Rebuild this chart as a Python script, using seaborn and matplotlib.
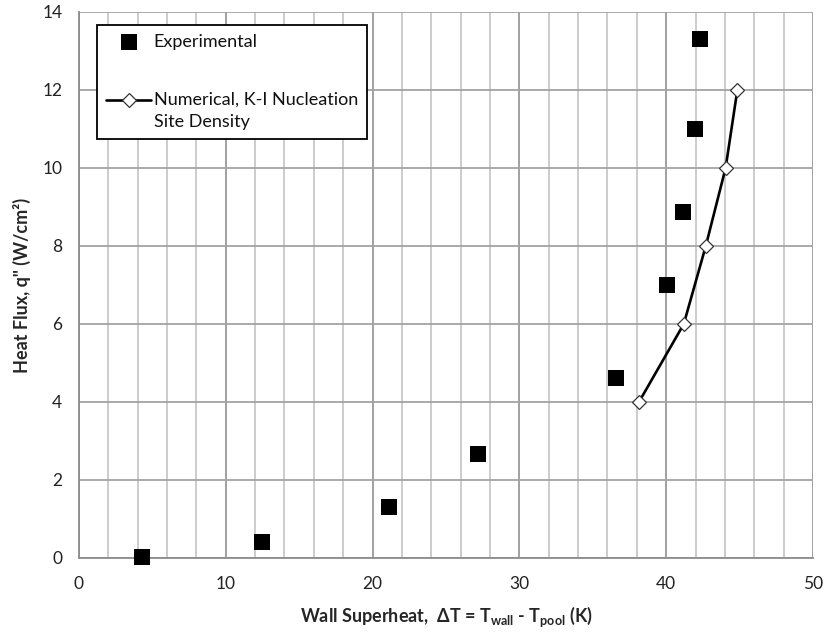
import matplotlib
matplotlib.use("Agg")
import matplotlib.pyplot as plt
from matplotlib.ticker import MultipleLocator
from matplotlib.legend_handler import HandlerLine2D
import seaborn as sns
import pandas as pd

# Experimental pool-boiling data
exp_dT = [4.3, 12.45, 21.1, 27.2, 36.55, 40.05, 41.15, 41.95, 42.3]
exp_q = [0.03, 0.40, 1.31, 2.67, 4.61, 7.0, 8.88, 10.99, 13.3]

# Numerical results, K-I nucleation site density
num_dT = [38.15, 41.2, 42.7, 44.05, 44.85]
num_q = [4.0, 6.0, 8.0, 10.0, 12.0]

x_ticks = [0, 10, 20, 30, 40, 50]
y_ticks = [0, 2, 4, 6, 8, 10, 12, 14]

sns.set_style("white")
plt.rcParams["font.family"] = ["Lato", "DejaVu Sans"]
plt.rcParams["mathtext.fontset"] = "custom"
plt.rcParams["mathtext.rm"] = "Lato:bold"
plt.rcParams["mathtext.it"] = "Lato:bold"
plt.rcParams["mathtext.bf"] = "Lato:bold"

exp_df = pd.DataFrame({"dT": exp_dT, "q": exp_q})
num_df = pd.DataFrame({"dT": num_dT, "q": num_q})


class FirstLineHandler(HandlerLine2D):
    """Line handle aligned with the first line of a two-line label."""

    def __init__(self, shift=8.0, **kw):
        super().__init__(**kw)
        self.shift = shift

    def create_artists(self, legend, orig_handle, xdescent, ydescent,
                       width, height, fontsize, trans):
        return super().create_artists(legend, orig_handle, xdescent,
                                      ydescent - 2 * self.shift, width,
                                      height, fontsize, trans)


fig = plt.figure(figsize=(8.26, 6.34), dpi=100)
ax = fig.add_axes([0.0956, 0.1199, 0.8886, 0.8612])

ax.set_xlim(0, 50)
ax.set_ylim(0, 14)
ax.xaxis.set_major_locator(MultipleLocator(10))
ax.xaxis.set_minor_locator(MultipleLocator(2))
ax.yaxis.set_major_locator(MultipleLocator(2))

ax.grid(which="minor", axis="x", color="#c8c8c8", linewidth=1.3)
ax.grid(which="major", axis="x", color="#9a9a9a", linewidth=1.3)
ax.grid(which="major", axis="y", color="#a4a4a4", linewidth=1.3)
ax.set_axisbelow(True)

sns.scatterplot(data=exp_df, x="dT", y="q", marker="s", s=120, color="black",
                edgecolor="black", linewidth=0, ax=ax, label="Experimental",
                zorder=3, clip_on=False)
sns.lineplot(data=num_df, x="dT", y="q", color="black", linewidth=1.9,
             marker="D", markersize=7.5, markerfacecolor="white",
             markeredgecolor="#333333", markeredgewidth=0.9, ax=ax,
             label="Numerical, K-I Nucleation\nSite Density", zorder=4)

for side in ["top", "right"]:
    ax.spines[side].set_visible(False)
for side in ["left", "bottom"]:
    ax.spines[side].set_color("#8c8c8c")
    ax.spines[side].set_linewidth(1.3)

ax.set_xticks(x_ticks)
ax.set_yticks(y_ticks)
ax.tick_params(axis="both", which="major", direction="out", length=6,
               width=1.2, color="#8c8c8c", labelsize=12.5, labelcolor="#222222")
ax.tick_params(axis="x", which="minor", length=0)
ax.tick_params(axis="x", pad=7)
ax.tick_params(axis="y", pad=6)

ax.set_xlabel(r"Wall Superheat,  ΔT = T$_{\mathrm{wall}}$ - T$_{\mathrm{pool}}$ (K)",
              fontsize=13, fontweight="bold", labelpad=9)
ax.set_ylabel('Heat Flux, q" (W/cm²)', fontsize=13, fontweight="bold",
              labelpad=8)

handles, labels = ax.get_legend_handles_labels()
leg = ax.legend(handles, labels, loc="upper left",
                bbox_to_anchor=(0.0245, 0.977), frameon=True,
                fancybox=False, edgecolor="black", framealpha=1,
                fontsize=13, labelspacing=2.35, handlelength=2.5,
                handletextpad=0.15, borderpad=0.5, borderaxespad=0,
                handler_map={handles[1]: FirstLineHandler(shift=8.0)})
leg.get_frame().set_linewidth(1.3)
for t in leg.get_texts():
    t.set_color("#111111")
leg.get_texts()[1].set_linespacing(1.45)

fig.savefig("out.png", dpi=100)
